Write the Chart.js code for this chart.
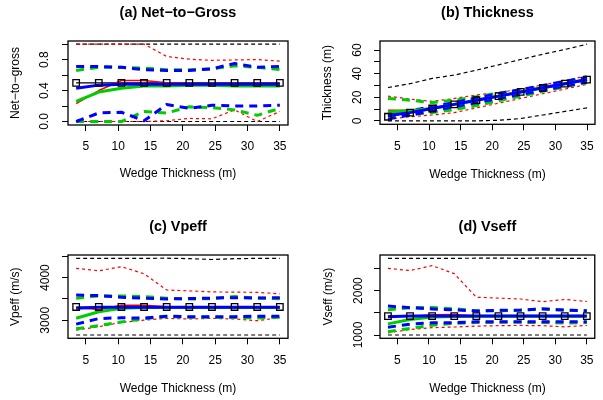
<!DOCTYPE html>
<html><head><meta charset="utf-8">
<script src="https://cdn.jsdelivr.net/npm/chart.js@4.4.0/dist/chart.umd.min.js"></script>
<style>
html,body{margin:0;padding:0;background:#fff;}
#wrap{position:relative;width:603px;height:400px;overflow:hidden;background:#fff;}
canvas{position:absolute;display:block;}
</style></head><body>
<div id="wrap">
<canvas id="ca" width="301" height="200" style="left:0;top:0;width:301px;height:200px"></canvas>
<canvas id="cb" width="302" height="200" style="left:301px;top:0;width:302px;height:200px"></canvas>
<canvas id="cc" width="301" height="200" style="left:0;top:200px;width:301px;height:200px"></canvas>
<canvas id="cd" width="302" height="200" style="left:301px;top:200px;width:302px;height:200px"></canvas>
</div>
<script>
// ---------- shared x data ----------
const wedge = [3.5, 7, 10.5, 14, 17.5, 21, 24.5, 28, 31.5, 35];
const xTicks = [5, 10, 15, 20, 25, 30, 35];
const xTickLabels = ["5", "10", "15", "20", "25", "30", "35"];

// ---------- (a) Net-to-Gross ----------
const ntgTrue     = [0.5, 0.5, 0.5, 0.5, 0.5, 0.5, 0.5, 0.5, 0.5, 0.5];
const ntgBlackHi  = [1, 1, 1, 1, 1, 1, 1, 1, 1, 1];
const ntgBlackLo  = [0, 0, 0, 0, 0, 0, 0, 0, 0, 0];
const ntgRedHi    = [1, 1, 1, 1, 0.84, 0.805, 0.79, 0.795, 0.8, 0.78];
const ntgRedLo    = [0, 0, 0, 0, 0.01, 0.04, 0.035, 0.15, 0, 0.13];
const ntgGreenHi  = [0.66, 0.70, 0.70, 0.69, 0.67, 0.67, 0.68, 0.72, 0.70, 0.67];
const ntgGreenLo  = [0, 0, 0, 0.13, 0.11, 0.19, 0.18, 0.15, 0.08, 0.17];
const ntgBlueHi   = [0.71, 0.71, 0.70, 0.67, 0.66, 0.66, 0.68, 0.75, 0.70, 0.71];
const ntgBlueLo   = [0, 0.11, 0.12, 0.01, 0.22, 0.17, 0.21, 0.20, 0.20, 0.21];
const ntgRedMid   = [0.23, 0.40, 0.53, 0.53, 0.50, 0.49, 0.49, 0.49, 0.49, 0.49];
const ntgGreenMid = [0.26, 0.38, 0.43, 0.46, 0.46, 0.47, 0.47, 0.46, 0.46, 0.46];
const ntgBlueMid  = [0.43, 0.47, 0.48, 0.48, 0.48, 0.48, 0.48, 0.48, 0.48, 0.48];
const ntgYTicks = [0, 0.2, 0.4, 0.6, 0.8, 1.0];
const ntgYLabels = ["0.0", "", "0.4", "", "0.8", ""];

// ---------- (b) Thickness ----------
const thkTrue     = [3.5, 7, 10.5, 14, 17.5, 21, 24.5, 28, 31.5, 35];
const thkBlackHi  = [28.3, 31.5, 36, 38.8, 43, 47.5, 52, 56.5, 60.5, 65];
const thkBlackLo  = [0, 0, 0, 0, 0, 0.5, 2, 5, 8, 11];
const thkRedHi    = [21, 18.5, 16.5, 19, 22, 24, 27, 30.5, 34, 38.3];
const thkRedLo    = [1.5, 3.5, 5, 7, 11, 15, 19, 23, 27, 31];
const thkGreenHi  = [19, 17.5, 15.5, 17.5, 20.5, 23.5, 26, 29.5, 33, 36.5];
const thkGreenLo  = [4, 5.5, 7, 9.5, 13, 17, 21, 25, 29, 32.5];
const thkBlueHi   = [6.5, 8.5, 12, 15.5, 19.5, 23, 26.5, 30, 33.5, 37];
const thkBlueLo   = [1.5, 5, 8.5, 12, 15.5, 19, 22.5, 26, 29.5, 33];
const thkRedMid   = [9, 9, 11, 14, 17.5, 21, 24.5, 28, 31.5, 35];
const thkGreenMid = [7.5, 8.5, 10.5, 14, 17.5, 21, 24.5, 28, 31.5, 35];
const thkBlueMid  = [4.5, 7, 10.5, 14, 17.5, 21, 24.5, 28, 31.5, 35];
const thkYTicks = [0, 10, 20, 30, 40, 50, 60];
const thkYLabels = ["0", "", "20", "", "40", "", "60"];

// ---------- (c) Vpeff ----------
const vpTrue     = [3312, 3312, 3312, 3312, 3312, 3312, 3312, 3312, 3312, 3312];
const vpBlackHi  = [4450, 4450, 4450, 4452, 4455, 4445, 4425, 4445, 4450, 4450];
const vpBlackLo  = [2655, 2655, 2655, 2655, 2655, 2655, 2655, 2655, 2655, 2655];
const vpRedHi    = [4218, 4160, 4256, 4090, 3710, 3690, 3665, 3660, 3655, 3620];
const vpRedLo    = [2770, 2850, 2950, 3005, 3045, 3030, 3045, 3030, 2990, 3060];
const vpGreenHi  = [3515, 3570, 3570, 3555, 3515, 3500, 3505, 3555, 3520, 3505];
const vpGreenLo  = [2800, 2875, 2960, 3040, 3085, 3070, 3070, 3065, 3055, 3070];
const vpBlueHi   = [3590, 3580, 3540, 3520, 3500, 3510, 3520, 3530, 3520, 3530];
const vpBlueLo   = [2910, 3040, 3060, 3050, 3095, 3085, 3080, 3085, 3095, 3095];
const vpRedMid   = [3300, 3250, 3350, 3350, 3315, 3312, 3312, 3312, 3312, 3312];
const vpGreenMid = [3047, 3200, 3280, 3297, 3300, 3300, 3300, 3300, 3300, 3300];
const vpBlueMid  = [3280, 3305, 3308, 3308, 3308, 3308, 3308, 3308, 3308, 3308];
const vpYTicks = [3000, 3500, 4000, 4500];
const vpYLabels = ["3000", "", "4000", ""];

// ---------- (d) Vseff ----------
const vsTrue     = [1427, 1427, 1427, 1427, 1427, 1427, 1427, 1427, 1427, 1427];
const vsBlackHi  = [2725, 2725, 2725, 2725, 2728, 2730, 2725, 2730, 2725, 2725];
const vsBlackLo  = [1000, 1000, 1000, 1000, 1000, 1000, 1000, 1000, 1000, 1000];
const vsRedHi    = [2500, 2450, 2560, 2380, 1850, 1830, 1810, 1750, 1800, 1755];
const vsRedLo    = [1050, 1125, 1165, 1180, 1200, 1210, 1215, 1210, 1185, 1215];
const vsGreenHi  = [1570, 1615, 1620, 1590, 1545, 1545, 1555, 1590, 1560, 1545];
const vsGreenLo  = [1075, 1150, 1220, 1265, 1280, 1285, 1285, 1280, 1270, 1280];
const vsBlueHi   = [1650, 1615, 1585, 1565, 1540, 1555, 1560, 1585, 1560, 1545];
const vsBlueLo   = [1175, 1245, 1275, 1275, 1300, 1300, 1300, 1300, 1300, 1300];
const vsRedMid   = [1420, 1420, 1455, 1460, 1430, 1427, 1427, 1427, 1427, 1427];
const vsGreenMid = [1250, 1350, 1405, 1418, 1420, 1420, 1420, 1420, 1420, 1420];
const vsBlueMid  = [1410, 1425, 1427, 1427, 1427, 1427, 1427, 1427, 1427, 1427];
const vsYTicks = [1000, 1500, 2000, 2500];
const vsYLabels = ["1000", "", "2000", ""];

// ---------- styling ----------
const FAMILY = "'Liberation Sans', Arial, Helvetica, sans-serif";
const RED = '#FF0000', GREEN = '#00CD00', BLUE = '#0000FF', BLACK = '#000000';

function pts(ys) { return wedge.map((x, i) => ({ x: x, y: ys[i] })); }
function line(ys, color, width, dash, order) {
  return { data: pts(ys), borderColor: color, borderWidth: width, borderDash: dash,
           pointRadius: 0, pointHoverRadius: 0, tension: 0, fill: false, order: order,
           borderCapStyle: 'butt', borderJoinStyle: 'round' };
}

const boxPlugin = {
  id: 'rbox',
  afterDatasetsDraw(chart) {
    const a = chart.chartArea, ctx = chart.ctx;
    ctx.save();
    ctx.strokeStyle = '#000';
    ctx.lineWidth = 1.3;
    ctx.strokeRect(a.left, a.top, a.right - a.left, a.bottom - a.top);
    ctx.restore();
  }
};

const measureCtx = document.createElement('canvas').getContext('2d');
function widest(labels) {
  measureCtx.font = 'normal 12px ' + FAMILY;
  return Math.max.apply(null, labels.map(l => measureCtx.measureText(l).width));
}

function makePanel(p) {
  const TL = 6;
  const titleHalf = 14.4 * 1.2 / 2;
  const half = 12 * 1.2 / 2;
  const yPad = p.L - TL - p.yTickX - widest(p.yLabels) / 2;
  const s = p.s;
  const datasets = [
    line(s.truth, BLACK, 1.2, [], 4),
    { data: pts(s.truth), showLine: false, pointStyle: 'rect', pointRadius: 4.6, pointHoverRadius: 4.6,
      pointBorderColor: BLACK, pointBorderWidth: 1.3, pointBackgroundColor: 'rgba(0,0,0,0)', order: 0 },
    line(s.blueMid, BLUE, 3, [], 1),
    line(s.greenMid, GREEN, 3, [], 2),
    line(s.redMid, RED, 1.5, [], 3),
    line(s.blueHi, BLUE, 3, [8, 6], 5),
    line(s.blueLo, BLUE, 3, [8, 6], 5),
    line(s.greenHi, GREEN, 3, [8, 6], 6),
    line(s.greenLo, GREEN, 3, [8, 6], 6),
    line(s.redHi, RED, 1.2, [3, 3], 7),
    line(s.redLo, RED, 1.2, [3, 3], 7),
    line(s.blackHi, BLACK, 1.2, [4, 3], 8),
    line(s.blackLo, BLACK, 1.2, [4, 3], 8)
  ];
  new Chart(document.getElementById(p.id), {
    type: 'line',
    data: { datasets: datasets },
    plugins: [boxPlugin],
    options: {
      responsive: false, animation: false, events: [],
      layout: { padding: { left: 0, right: p.w - p.R, top: 0, bottom: 0 } },
      plugins: {
        legend: { display: false }, tooltip: { enabled: false },
        title: {
          display: true, text: p.title, fullSize: false, color: '#000',
          font: { family: FAMILY, size: 14.4, weight: 'bold', lineHeight: 1.2 },
          padding: { top: p.titleY - titleHalf, bottom: p.T - p.titleY - titleHalf }
        }
      },
      scales: {
        x: {
          type: 'linear', min: 2.24, max: 36.26,
          afterBuildTicks: sc => { sc.ticks = xTicks.map(v => ({ value: v })); },
          afterFit: sc => { sc.height = p.h - p.B; },
          grid: { display: true, drawOnChartArea: false, drawTicks: true, tickLength: TL, color: '#000', lineWidth: 1 },
          border: { display: false },
          ticks: { autoSkip: false, maxRotation: 0, minRotation: 0, color: '#000',
                   padding: p.xTickY - p.B - TL - half,
                   font: { family: FAMILY, size: 12, lineHeight: 1.2 },
                   callback: (v, i) => xTickLabels[i] },
          title: { display: true, text: 'Wedge Thickness (m)', color: '#000',
                   font: { family: FAMILY, size: 12, lineHeight: 1.2 },
                   padding: { top: 0, bottom: p.h - p.xTitleY - half } }
        },
        y: {
          type: 'linear', min: p.yMin, max: p.yMax,
          afterBuildTicks: sc => { sc.ticks = p.yTicks.map(v => ({ value: v })); },
          afterFit: sc => { sc.width = p.L; },
          grid: { display: true, drawOnChartArea: false, drawTicks: true, tickLength: TL, color: '#000', lineWidth: 1 },
          border: { display: false },
          ticks: { autoSkip: false, minRotation: 90, maxRotation: 90, crossAlign: 'center', color: '#000',
                   padding: yPad,
                   font: { family: FAMILY, size: 12, lineHeight: 1.2 },
                   callback: (v, i) => p.yLabels[i] },
          title: { display: true, text: p.yTitle, color: '#000',
                   font: { family: FAMILY, size: 12, lineHeight: 1.2 },
                   padding: { top: p.yTitleX - half, bottom: 0 } }
        }
      }
    }
  });
}

makePanel({ id: 'ca', w: 301, h: 200, L: 68, R: 288, T: 41, B: 125,
  titleY: 13, xTickY: 147, xTitleY: 174, yTickX: 45, yTitleX: 15.7,
  title: '(a) Net\u2212to\u2212Gross', yTitle: 'Net\u2212to\u2212gross',
  yMin: -0.045, yMax: 1.04, yTicks: ntgYTicks, yLabels: ntgYLabels,
  s: { truth: ntgTrue, blackHi: ntgBlackHi, blackLo: ntgBlackLo, redHi: ntgRedHi, redLo: ntgRedLo,
       greenHi: ntgGreenHi, greenLo: ntgGreenLo, blueHi: ntgBlueHi, blueLo: ntgBlueLo,
       redMid: ntgRedMid, greenMid: ntgGreenMid, blueMid: ntgBlueMid } });

makePanel({ id: 'cb', w: 302, h: 200, L: 79, R: 298, T: 41, B: 124.3,
  titleY: 13, xTickY: 146.5, xTitleY: 174.3, yTickX: 57, yTitleX: 27,
  title: '(b) Thickness', yTitle: 'Thickness (m)',
  yMin: -2.9, yMax: 67.7, yTicks: thkYTicks, yLabels: thkYLabels,
  s: { truth: thkTrue, blackHi: thkBlackHi, blackLo: thkBlackLo, redHi: thkRedHi, redLo: thkRedLo,
       greenHi: thkGreenHi, greenLo: thkGreenLo, blueHi: thkBlueHi, blueLo: thkBlueLo,
       redMid: thkRedMid, greenMid: thkGreenMid, blueMid: thkBlueMid } });

makePanel({ id: 'cc', w: 301, h: 200, L: 68, R: 288, T: 55, B: 138.3,
  titleY: 26.7, xTickY: 160.7, xTitleY: 189, yTickX: 46, yTitleX: 16,
  title: '(c) Vpeff', yTitle: 'Vpeff (m/s)',
  yMin: 2578, yMax: 4530, yTicks: vpYTicks, yLabels: vpYLabels,
  s: { truth: vpTrue, blackHi: vpBlackHi, blackLo: vpBlackLo, redHi: vpRedHi, redLo: vpRedLo,
       greenHi: vpGreenHi, greenLo: vpGreenLo, blueHi: vpBlueHi, blueLo: vpBlueLo,
       redMid: vpRedMid, greenMid: vpGreenMid, blueMid: vpBlueMid } });

makePanel({ id: 'cd', w: 302, h: 200, L: 79, R: 298, T: 55, B: 138.3,
  titleY: 26.7, xTickY: 160.7, xTitleY: 189, yTickX: 57.3, yTitleX: 27.3,
  title: '(d) Vseff', yTitle: 'Vseff (m/s)',
  yMin: 926, yMax: 2800, yTicks: vsYTicks, yLabels: vsYLabels,
  s: { truth: vsTrue, blackHi: vsBlackHi, blackLo: vsBlackLo, redHi: vsRedHi, redLo: vsRedLo,
       greenHi: vsGreenHi, greenLo: vsGreenLo, blueHi: vsBlueHi, blueLo: vsBlueLo,
       redMid: vsRedMid, greenMid: vsGreenMid, blueMid: vsBlueMid } });
</script>
</body></html>
